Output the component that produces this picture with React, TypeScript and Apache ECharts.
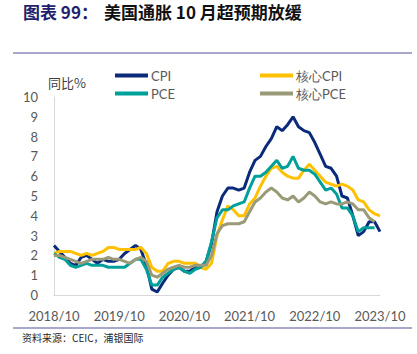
import React, { useEffect, useRef } from "react";
import * as echarts from "echarts";

const years = [2018, 2019, 2020, 2021, 2022, 2023];
const months: string[] = [];
for (const y of years) {
  for (let m = 1; m <= 12; m++) {
    if (y === 2018 && m < 10) continue;
    if (y === 2023 && m > 10) continue;
    months.push(`${y}/${m}`);
  }
}

const cpi = [2.5, 2.2, 1.9, 1.6, 1.5, 1.9, 2.0, 1.8, 1.6, 1.8, 1.7, 1.7, 1.8, 2.1, 2.3, 2.5, 2.3, 1.5, 0.3, 0.15, 0.6, 1.0, 1.3, 1.4, 1.2, 1.2, 1.4, 1.4, 1.7, 2.6, 4.2, 5.0, 5.4, 5.4, 5.3, 5.4, 6.2, 6.8, 7.0, 7.5, 7.9, 8.5, 8.3, 8.6, 9.0, 8.5, 8.3, 8.2, 7.7, 7.1, 6.5, 6.4, 6.0, 5.0, 4.9, 4.0, 3.0, 3.2, 3.7, 3.7, 3.2];
const coreCpi = [2.1, 2.2, 2.2, 2.2, 2.1, 2.0, 2.1, 2.0, 2.1, 2.2, 2.4, 2.4, 2.3, 2.3, 2.3, 2.3, 2.4, 2.1, 1.4, 1.2, 1.2, 1.6, 1.7, 1.7, 1.6, 1.6, 1.6, 1.4, 1.3, 1.6, 3.0, 3.8, 4.5, 4.3, 4.0, 4.0, 4.6, 4.9, 5.5, 6.0, 6.4, 6.5, 6.2, 6.0, 5.9, 5.9, 6.3, 6.6, 6.3, 6.0, 5.7, 5.6, 5.5, 5.6, 5.5, 5.3, 4.8, 4.7, 4.3, 4.1, 4.0];
const pce = [2.1, 1.9, 1.8, 1.5, 1.4, 1.5, 1.6, 1.5, 1.5, 1.5, 1.4, 1.4, 1.4, 1.4, 1.6, 1.8, 1.8, 1.3, 0.5, 0.5, 0.9, 1.1, 1.3, 1.4, 1.2, 1.1, 1.3, 1.4, 1.7, 2.7, 3.9, 4.3, 4.3, 4.5, 4.6, 4.7, 5.4, 6.0, 6.0, 6.2, 6.5, 6.8, 6.4, 6.5, 7.0, 6.4, 6.3, 6.3, 6.1, 5.7, 5.3, 5.4, 5.1, 4.4, 4.4, 4.0, 3.2, 3.4, 3.4, 3.4];
const corePce = [2.0, 2.0, 1.9, 1.8, 1.7, 1.6, 1.7, 1.8, 1.8, 1.8, 1.9, 1.8, 1.8, 1.7, 1.6, 1.8, 1.9, 1.7, 1.0, 0.9, 1.1, 1.3, 1.4, 1.5, 1.4, 1.4, 1.5, 1.5, 1.5, 2.0, 3.1, 3.5, 3.6, 3.6, 3.6, 3.7, 4.2, 4.7, 4.9, 5.2, 5.4, 5.2, 4.9, 4.8, 5.0, 4.7, 4.9, 5.2, 5.0, 4.7, 4.6, 4.7, 4.6, 4.6, 4.7, 4.6, 4.3, 4.3, 3.9, 3.7];

const seriesNames = ["CPI", "核心CPI", "PCE", "核心PCE"];
const seriesColors = ["#0b2b7a", "#ffc000", "#00a09a", "#9a9a78"];

const titleLead = "图表 99：";
const titleRest = "美国通胀 10 月超预期放缓";
const unitLabel = "同比%";
const sourceText = "资料来源：CEIC，浦银国际";

export default function App() {
  const ref = useRef<HTMLDivElement>(null);
  useEffect(() => {
    if (!ref.current) return;
    const chart = echarts.init(ref.current, undefined, { renderer: "svg" });
    const latin = "Lato";
    const cjk = "Noto Sans CJK SC";
    const dataSets = [cpi, coreCpi, pce, corePce];
    const legendText = { fontSize: 13, color: "#595959", fontFamily: latin, padding: [0, 0, 0, -2] };
    chart.setOption({
      animation: false,
      backgroundColor: "#ffffff",
      color: seriesColors,
      grid: { left: 54, top: 97, width: 326, height: 198, containLabel: false },
      legend: [
        {
          data: ["CPI", "PCE"],
          orient: "vertical",
          left: 110,
          top: 64,
          itemWidth: 33,
          itemHeight: 4,
          itemGap: 5,
          icon: "rect",
          textStyle: legendText,
        },
        {
          data: ["核心CPI", "核心PCE"],
          orient: "vertical",
          left: 255,
          top: 64,
          itemWidth: 33,
          itemHeight: 4,
          itemGap: 5,
          icon: "rect",
          textStyle: legendText,
        },
      ],
      xAxis: {
        type: "category",
        data: months,
        boundaryGap: false,
        axisLine: { show: true, lineStyle: { color: "#d9d9d9", width: 1 } },
        axisTick: { show: false },
        axisLabel: {
          interval: 11,
          fontSize: 13,
          color: "#595959",
          fontFamily: latin,
          margin: 14,
        },
        splitLine: { show: false },
      },
      yAxis: {
        type: "value",
        min: 0,
        max: 10,
        interval: 1,
        axisLine: { show: true, lineStyle: { color: "#d9d9d9", width: 1 } },
        axisTick: { show: false },
        axisLabel: { fontSize: 13, color: "#595959", fontFamily: latin, margin: 16 },
        splitLine: { show: false },
      },
      series: seriesNames.map((name, i) => ({
        name,
        type: "line",
        data: dataSets[i],
        showSymbol: false,
        symbol: "none",
        lineStyle: { width: 3, color: seriesColors[i] },
        itemStyle: { color: seriesColors[i] },
      })),
      graphic: [
        {
          type: "text",
          x: 23,
          y: 11,
          style: {
            text: titleLead,
            fontSize: 17,
            lineHeight: 20,
            fontWeight: "bold",
            fill: "#1f1f6e",
            fontFamily: cjk,
            verticalAlign: "middle",
          },
        },
        {
          type: "text",
          x: 104,
          y: 11,
          style: {
            text: titleRest,
            fontSize: 17,
            lineHeight: 20,
            fontWeight: "bold",
            fill: "#111111",
            fontFamily: cjk,
            verticalAlign: "middle",
          },
        },
        {
          type: "line",
          shape: { x1: 13, y1: 53, x2: 412, y2: 53 },
          style: { stroke: "#a8a8cc", lineWidth: 2 },
        },
        {
          type: "text",
          left: 48,
          top: 76,
          style: { text: unitLabel, fontSize: 13, fill: "#404040", fontFamily: cjk },
        },
        {
          type: "line",
          shape: { x1: 13, y1: 328, x2: 412, y2: 328 },
          style: { stroke: "#a8a8cc", lineWidth: 2 },
        },
        {
          type: "text",
          left: 22,
          top: 332,
          style: { text: sourceText, fontSize: 10, fill: "#262626", fontFamily: cjk },
        },
      ],
    });
    return () => chart.dispose();
  }, []);
  return (
    <div
      ref={ref}
      style={{ position: "fixed", left: 0, top: 0, width: 417, height: 354, background: "#fff" }}
    />
  );
}
